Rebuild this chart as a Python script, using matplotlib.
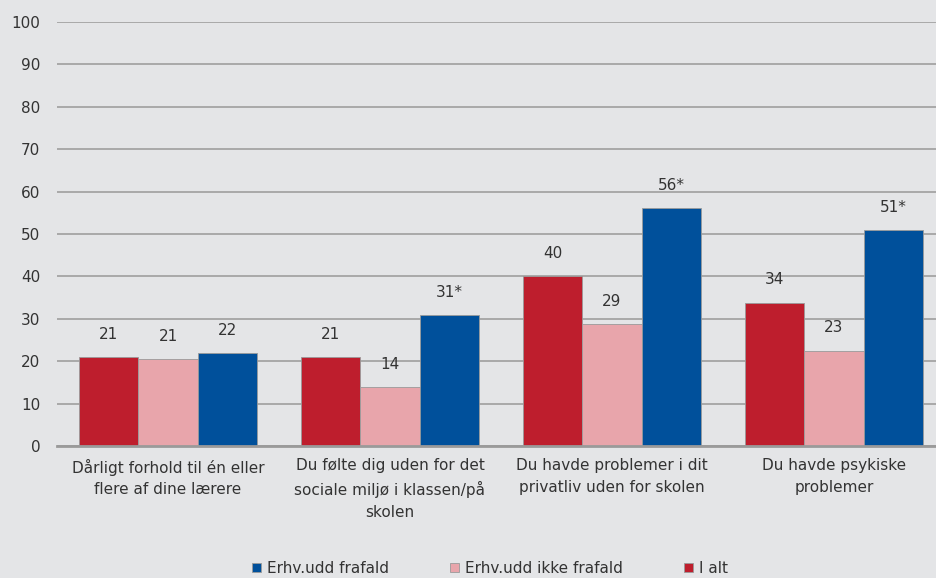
import numpy as np
import matplotlib.pyplot as plt

# data
categories = ["Dårligt forhold til én eller\nflere af dine lærere",
              "Du følte dig uden for det\nsociale miljø i klassen/på\nskolen",
              "Du havde problemer i dit\nprivatliv uden for skolen",
              "Du havde psykiske\nproblemer"]
i_alt = [21.0, 21.0, 40.0, 33.8]
ikke_frafald = [20.5, 13.8, 28.8, 22.5]
frafald = [21.9, 30.9, 56.1, 50.9]
lbl_i_alt = ["21", "21", "40", "34"]
lbl_ikke = ["21", "14", "29", "23"]
lbl_frafald = ["22", "31*", "56*", "51*"]
yticks = [0, 10, 20, 30, 40, 50, 60, 70, 80, 90, 100]

bg = "#e4e5e7"
c_red = "#be1e2d"
c_pink = "#e8a5ab"
c_blue = "#00509b"
txt = "#333333"

plt.rcParams['font.family'] = ['DejaVu Sans']

fig = plt.figure(figsize=(9.36, 5.78), dpi=100, facecolor=bg)
ax = fig.add_axes([0.0609, 0.2284, 0.9487, 0.7336])
ax.set_facecolor(bg)

x = np.arange(len(categories))
w = 0.267
series = [(i_alt, lbl_i_alt, c_red, "I alt", -w),
          (ikke_frafald, lbl_ikke, c_pink, "Erhv.udd ikke frafald", 0),
          (frafald, lbl_frafald, c_blue, "Erhv.udd frafald", w)]
handles = {}
for vals, lbls, col, name, off in series:
    b = ax.bar(x + off, vals, w, color=col, edgecolor="#9a9a9a", linewidth=0.6,
               label=name, zorder=3)
    handles[name] = b
    for xi, v, s in zip(x + off, vals, lbls):
        ax.text(xi, v + 3.6, s, ha="center", va="bottom", fontsize=11,
                color=txt, zorder=4)

ax.set_xlim(-0.5, 3.5)
ax.set_ylim(0, 100)
ax.set_yticks(yticks)
ax.yaxis.grid(True, color="#a9a9a9", linewidth=1.4, zorder=0)
ax.set_axisbelow(True)
for sp in ["top", "right", "left"]:
    ax.spines[sp].set_visible(False)
ax.spines["bottom"].set_color("#9a9a9a")
ax.spines["bottom"].set_linewidth(2)
ax.spines["bottom"].set_zorder(5)
ax.tick_params(axis="both", length=0, colors=txt, labelsize=11)
ax.tick_params(axis="y", pad=12)
ax.set_xticks(x)
ax.set_xticklabels(categories, fontsize=11, color=txt, linespacing=1.55)
ax.tick_params(axis="x", pad=9)

order = ["Erhv.udd frafald", "Erhv.udd ikke frafald", "I alt"]
leg = fig.legend([handles[n] for n in order], order, loc="lower center",
                 bbox_to_anchor=(0.5235, -0.02), ncol=3, frameon=False,
                 fontsize=11, handlelength=0.6, handleheight=0.6,
                 columnspacing=4.0, handletextpad=0.4, labelcolor=txt)

fig.savefig("out.png", dpi=100, facecolor=bg)
